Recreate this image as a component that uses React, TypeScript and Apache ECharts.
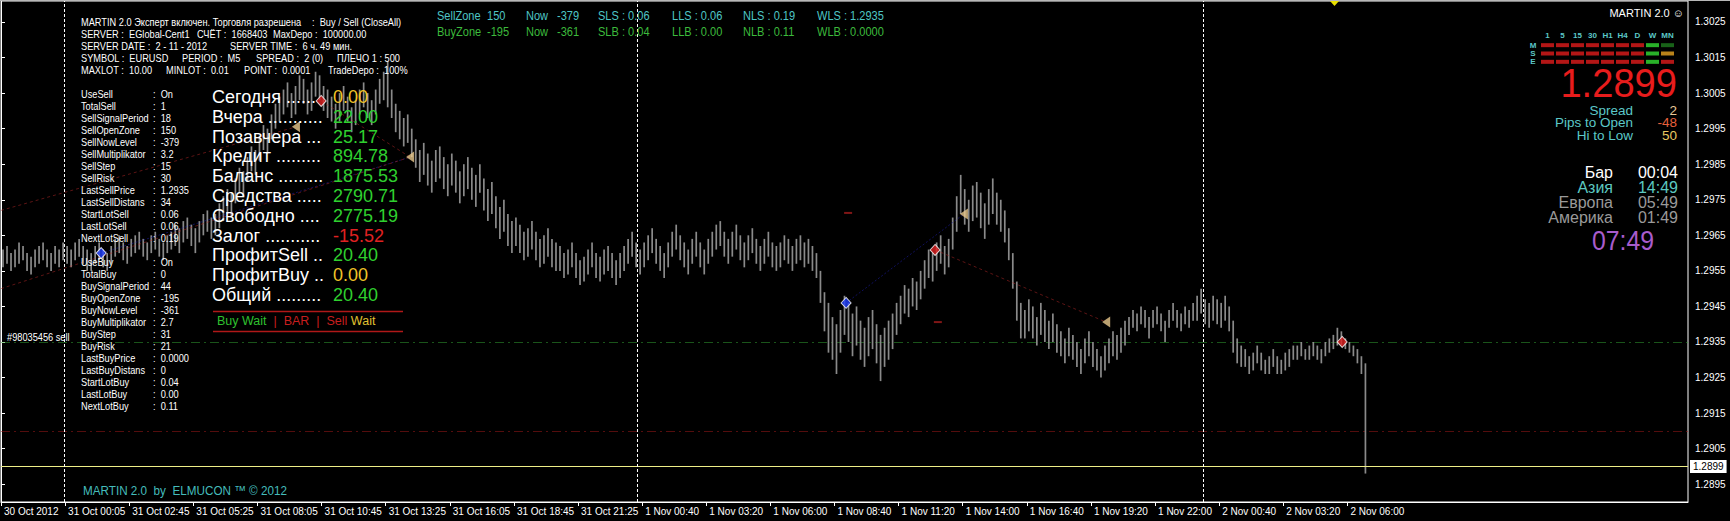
import React, { useEffect, useRef } from "react";
import * as echarts from "echarts";

// ---------------- DATA ----------------
// bar prices in points: price = 1 + v / 10000
const barHigh = [
  2961, 2962, 2960, 2961, 2963, 2962, 2960, 2959, 2961, 2962, 2963, 2961, 2960, 2962, 2961, 2963,
  2962, 2961, 2963, 2964, 2962, 2961, 2960, 2962, 2963, 2961, 2960, 2962, 2964, 2965, 2963, 2962, 2964, 2965, 2966, 2964, 2963, 2965, 2966, 2964, 2963, 2965,
  2966, 2968, 2967, 2969, 2970, 2968, 2967, 2969, 2971, 2972, 2970, 2971,
  2974, 2976, 2978, 2977, 2981, 2984, 2983, 2987, 2990, 2989, 2993, 2996, 2995, 2999, 3002, 3004,
  3006, 3008, 3005, 3007, 3010, 3009, 3006, 3008, 3011, 3010, 3007, 3006,
  3004, 3002, 3005, 3007, 3004, 3001, 3003, 3006, 3008, 3005, 3003, 3006, 3009, 3011, 3014,
  3006, 3002, 3000, 2998, 2999, 2995, 2992,
  2989, 2991, 2988, 2986, 2989, 2990, 2987, 2985, 2988, 2986, 2983, 2985, 2987, 2984, 2982,
  2985, 2981, 2978, 2980, 2976, 2973, 2975, 2971, 2969,
  2970, 2968, 2966, 2967, 2969, 2966, 2964, 2965, 2967, 2964, 2963,
  2962, 2960, 2961, 2963, 2960, 2958, 2959, 2961, 2963, 2960, 2959, 2961, 2962, 2960, 2958, 2960,
  2962, 2964, 2966, 2963, 2961, 2963, 2965, 2967, 2964, 2962, 2960, 2963, 2966, 2968, 2965, 2963, 2961, 2964, 2966, 2963, 2961, 2964,
  2966, 2968, 2969, 2966, 2964, 2966, 2968, 2965, 2963, 2965, 2967, 2964, 2962, 2964, 2966, 2963, 2962,
  2963, 2965, 2964, 2962, 2964, 2965, 2963, 2964, 2962, 2960,
  2955, 2949, 2946, 2942,
  2940, 2944, 2948, 2946, 2943, 2945, 2941, 2939, 2942, 2944, 2940, 2937, 2939, 2941, 2943,
  2946, 2948, 2951, 2950, 2953, 2952, 2955,
  2958, 2961, 2960, 2963, 2965, 2962, 2964,
  2970, 2976, 2982, 2978, 2975, 2979,
  2980, 2977, 2974, 2978, 2981, 2977, 2975, 2972,
  2967, 2960, 2952, 2946,
  2944, 2947, 2945, 2942, 2946, 2944, 2941, 2943, 2940,
  2938, 2936, 2939, 2937, 2935, 2933, 2936, 2938, 2935, 2933, 2931, 2934, 2936, 2938, 2937, 2939, 2941,
  2942, 2944, 2943, 2945, 2944, 2942, 2944, 2945, 2943, 2941, 2944, 2946, 2944, 2943, 2945, 2944, 2946,
  2948, 2950, 2947, 2946, 2948, 2947, 2946, 2948, 2945,
  2941, 2936, 2934,
  2933, 2931, 2932, 2934, 2932, 2930, 2931, 2933, 2931, 2930, 2932, 2933, 2934,
  2934, 2935, 2933, 2934, 2935, 2934, 2933, 2935, 2936, 2937, 2939,
  2938, 2936, 2935, 2934, 2933,
  2931, 2929,
];
const barLow = [
  2956, 2957, 2955, 2956, 2957, 2958, 2955, 2954, 2956, 2957, 2958, 2956, 2955, 2957, 2956, 2958,
  2957, 2956, 2958, 2959, 2957, 2955, 2955, 2957, 2958, 2956, 2955, 2957, 2959, 2960, 2958, 2957, 2959, 2960, 2961, 2959, 2958, 2960, 2961, 2959, 2958, 2960,
  2961, 2962, 2960, 2963, 2964, 2962, 2960, 2963, 2965, 2966, 2964, 2965,
  2967, 2969, 2971, 2970, 2974, 2977, 2976, 2980, 2983, 2982, 2986, 2989, 2988, 2992, 2995, 2997,
  2999, 3001, 2998, 2999, 3003, 3002, 2999, 3000, 3004, 3003, 3000, 2998,
  2997, 2995, 2997, 3000, 2997, 2994, 2996, 2999, 3001, 2998, 2996, 2999, 3002, 3003, 3001,
  2998, 2994, 2992, 2990, 2991, 2987, 2984,
  2980, 2982, 2979, 2977, 2980, 2981, 2978, 2976, 2979, 2977, 2974, 2976, 2978, 2975, 2973,
  2977, 2972, 2969, 2971, 2967, 2964, 2966, 2962, 2960,
  2962, 2960, 2958, 2959, 2961, 2958, 2956, 2957, 2959, 2956, 2955,
  2955, 2953, 2954, 2956, 2953, 2951, 2952, 2954, 2956, 2953, 2952, 2954, 2955, 2953, 2951, 2953,
  2955, 2957, 2959, 2956, 2954, 2956, 2958, 2960, 2957, 2955, 2953, 2956, 2959, 2961, 2958, 2956, 2954, 2957, 2959, 2956, 2954, 2957,
  2959, 2961, 2962, 2959, 2957, 2959, 2961, 2958, 2956, 2958, 2960, 2957, 2955, 2957, 2959, 2956, 2955,
  2956, 2958, 2957, 2955, 2957, 2958, 2956, 2957, 2955, 2953,
  2946, 2938, 2932, 2930,
  2926, 2932, 2937, 2935, 2931, 2934, 2930, 2928, 2931, 2933, 2929, 2924, 2928, 2930, 2933,
  2937, 2940, 2943, 2942, 2945, 2944, 2947,
  2950, 2953, 2952, 2955, 2957, 2954, 2956,
  2961, 2966, 2971, 2968, 2966, 2969,
  2970, 2967, 2964, 2968, 2971, 2968, 2966, 2963,
  2958, 2950, 2941, 2936,
  2936, 2938, 2936, 2934, 2937, 2935, 2933, 2935, 2932,
  2931, 2929, 2931, 2930, 2928, 2926, 2929, 2931, 2928, 2927, 2925, 2927, 2929, 2931, 2930, 2932, 2934,
  2937, 2939, 2938, 2940, 2939, 2936, 2939, 2940, 2938, 2935, 2939, 2941, 2939, 2938, 2940, 2939, 2941,
  2941, 2943, 2940, 2939, 2941, 2940, 2939, 2941, 2938,
  2932, 2929, 2928,
  2928, 2926, 2927, 2929, 2927, 2926, 2926, 2928, 2926, 2926, 2927, 2928, 2930,
  2930, 2931, 2930, 2930, 2931, 2930, 2929, 2931, 2932, 2933, 2934,
  2934, 2933, 2932, 2931, 2929,
  2926, 2898,
];

const xLabels = [
  "30 Oct 2012", "31 Oct 00:05", "31 Oct 02:45", "31 Oct 05:25", "31 Oct 08:05", "31 Oct 10:45",
  "31 Oct 13:25", "31 Oct 16:05", "31 Oct 18:45", "31 Oct 21:25", "1 Nov 00:40", "1 Nov 03:20",
  "1 Nov 06:00", "1 Nov 08:40", "1 Nov 11:20", "1 Nov 14:00", "1 Nov 16:40", "1 Nov 19:20",
  "1 Nov 22:00", "2 Nov 00:40", "2 Nov 03:20", "2 Nov 06:00",
];
const barsPerLabel = 16;
const totalSlots = 421;
const yTicks = [1.2895, 1.2905, 1.2915, 1.2925, 1.2935, 1.2945, 1.2955, 1.2965, 1.2975, 1.2985, 1.2995, 1.3005, 1.3015, 1.3025];
const yMin = 1.289;
const yMax = 1.30309;

const bidPrice = 1.2899;
const greenLevel = 1.2935;
const redLevel = 1.291;
const separators = [15.7, 158.7, 300];

const buyOpens = [[25, 1.296], [210.9, 1.2946]];
const sellOpens = [[79.9, 1.30028], [233.1, 1.29609], [334.7, 1.2935]];
const closeMarks = [[73.6, 1.29955], [102.1, 1.2987], [240.3, 1.2971], [275.8, 1.29406]];
const stopMarks = [[211.4, 1.29713], [233.8, 1.29406]];
const buyTradeLines = [
  [[25, 1.296], [102.1, 1.2987]],
  [[210.9, 1.2946], [240.3, 1.2971]],
];
const sellTradeLines = [
  [[0, 1.2972], [73.6, 1.29955]],
  [[0, 1.295], [102.1, 1.2987]],
  [[79.9, 1.30028], [102.1, 1.2987]],
  [[233.1, 1.29609], [275.8, 1.29406]],
];

const infoLines = [
  ["MARTIN 2.0 Эксперт включен. Торговля разрешена", ":  Buy / Sell (CloseAll)"],
  ["SERVER :  EGlobal-Cent1", "СЧЁТ :  1668403", "MaxDepo :  100000.00"],
  ["SERVER DATE :  2 - 11 - 2012", "SERVER TIME :  6 ч. 49 мин."],
  ["SYMBOL :  EURUSD", "PERIOD :  M5", "SPREAD :  2 (0)", "ПЛЕЧО 1 : 500"],
  ["MAXLOT :  10.00", "MINLOT :  0.01", "POINT :  0.0001", "TradeDepo :  100%"],
];
const sellParams = [
  ["UseSell", "On"], ["TotalSell", "1"], ["SellSignalPeriod", "18"], ["SellOpenZone", "150"],
  ["SellNowLevel", "-379"], ["SellMultiplikator", "3.2"], ["SellStep", "15"], ["SellRisk", "30"],
  ["LastSellPrice", "1.2935"], ["LastSellDistans", "34"], ["StartLotSell", "0.06"],
  ["LastLotSell", "0.06"], ["NextLotSell", "0.19"],
];
const buyParams = [
  ["UseBuy", "On"], ["TotalBuy", "0"], ["BuySignalPeriod", "44"], ["BuyOpenZone", "-195"],
  ["BuyNowLevel", "-361"], ["BuyMultiplikator", "2.7"], ["BuyStep", "31"], ["BuyRisk", "21"],
  ["LastBuyPrice", "0.0000"], ["LastBuyDistans", "0"], ["StartLotBuy", "0.04"],
  ["LastLotBuy", "0.00"], ["NextLotBuy", "0.11"],
];
const accountRows = [
  ["Сегодня ......", "0.00", "y"], ["Вчера ...........", "22.00", "g"], ["Позавчера ...", "25.17", "g"],
  ["Кредит .........", "894.78", "g"], ["Баланс .........", "1875.53", "g"], ["Средства .....", "2790.71", "g"],
  ["Свободно ....", "2775.19", "g"], ["Залог ...........", "-15.52", "r"], ["ПрофитSell ..", "20.40", "g"],
  ["ПрофитBuy ..", "0.00", "y"], ["Общий .........", "20.40", "g"],
];
const sellZone = ["SellZone", "150", "Now", "-379", "SLS : 0.06", "LLS : 0.06", "NLS : 0.19", "WLS : 1.2935"];
const buyZone = ["BuyZone", "-195", "Now", "-361", "SLB : 0.04", "LLB : 0.00", "NLB : 0.11", "WLB : 0.0000"];

const tfNames = ["1", "5", "15", "30", "H1", "H4", "D", "W", "MN"];
const tfRows = ["M", "S", "E"];
const tfStatus = [
  ["r", "r", "r", "r", "r", "r", "r", "g", "dg"],
  ["r", "r", "r", "r", "r", "r", "r", "g", "o"],
  ["r", "r", "r", "r", "r", "r", "r", "g", "r"],
];
const statRows = [["Spread", "2"], ["Pips to Open", "-48"], ["Hi to Low", "50"]];
const sessionRows = [["Бар", "00:04"], ["Азия", "14:49"], ["Европа", "05:49"], ["Америка", "01:49"]];
const localTime = "07:49";

// ---------------- STYLE ----------------
const SANS = '"Liberation Sans", Arial, sans-serif';
const valColors: Record<string, string> = { g: "#2fd02f", y: "#f0c428", r: "#e02222" };
const tfColors: Record<string, string> = { r: "#e01c1c", g: "#33dd33", dg: "#1e7a1e", o: "#e8a420" };

function buildOption() {
  const bars = barHigh.map((h, i) => [i + 0.5, 1 + barLow[i] / 10000, 1 + h / 10000]);
  const g: any[] = [];
  const txt = (x: number, y: number, text: string, fill: string, size: number, align = "left", sx = 1, extra: any = {}) =>
    g.push({
      type: "text", x, y, z: 100, silent: true, scaleX: sx,
      style: { text, fill, fontSize: size, fontFamily: SANS, align, verticalAlign: "middle", textAlign: align, textVerticalAlign: "middle", ...extra },
    });

  // top window line
  g.push({ type: "rect", shape: { x: 0, y: 0, width: 1730, height: 1 }, style: { fill: "#b8b8b8" }, z: 100 });
  // chart shift marker
  g.push({ type: "polygon", shape: { points: [[1330, 1], [1339, 1], [1334.5, 6]] }, style: { fill: "#e8e000" }, z: 100 });

  // info header
  const infoX = [[81, 312], [81, 197, 273], [81, 230], [81, 182, 256, 337], [81, 166, 244, 328]];
  infoLines.forEach((line, r) => line.forEach((s, c) => txt(infoX[r][c], 22 + r * 12, s, "#ffffff", 11, "left", 0.84)));

  // parameter lists
  sellParams.forEach(([k, v], i) => {
    txt(81, 94 + i * 12, k, "#ffffff", 11, "left", 0.84);
    txt(153, 94 + i * 12, ":  " + v, "#ffffff", 11, "left", 0.84);
  });
  buyParams.forEach(([k, v], i) => {
    txt(81, 262 + i * 12, k, "#ffffff", 11, "left", 0.84);
    txt(153, 262 + i * 12, ":  " + v, "#ffffff", 11, "left", 0.84);
  });
  txt(7, 337, "#98035456 sell", "#ffffff", 10.5, "left", 0.88);

  // account block
  accountRows.forEach(([k, v, c], i) => {
    const y = 97 + i * 19.8;
    txt(212, y, k, "#ffffff", 18);
    txt(333, y, v, valColors[c], 18);
  });
  g.push({ type: "line", shape: { x1: 213, y1: 311.5, x2: 403, y2: 311.5 }, style: { stroke: "#b01818", lineWidth: 1.5 }, z: 100 });
  g.push({ type: "line", shape: { x1: 213, y1: 331.5, x2: 403, y2: 331.5 }, style: { stroke: "#b01818", lineWidth: 1.5 }, z: 100 });
  txt(217, 321, "{g|Buy Wait}{r|  |  BAR  |  Sell }{y|Wait}", "#ffffff", 12.5, "left", 1, {
    rich: {
      g: { fill: "#2fc02f", fontSize: 12.5, fontFamily: SANS },
      r: { fill: "#c81e1e", fontSize: 12.5, fontFamily: SANS },
      y: { fill: "#e0c030", fontSize: 12.5, fontFamily: SANS },
    },
  });

  // zone lines
  const zoneX = [437, 487, 526, 557, 598, 672, 743, 817];
  sellZone.forEach((s, i) => txt(zoneX[i], 16, s, "#4ec6c6", 13, "left", 0.85));
  buyZone.forEach((s, i) => txt(zoneX[i], 32, s, "#3cba3c", 13, "left", 0.85));

  // right panel
  txt(1684, 13, "MARTIN 2.0 ☺", "#ffffff", 11, "right");
  txt(1533, 45, "M", "#5cc8c8", 8, "center", 1, { fontWeight: "bold" });
  txt(1533, 53, "S", "#5cc8c8", 8, "center", 1, { fontWeight: "bold" });
  txt(1533, 61, "E", "#5cc8c8", 8, "center", 1, { fontWeight: "bold" });
  txt(1677, 83, "1.2899", "#e81c1c", 41, "right", 0.93);
  const statVal = ["#e8c898", "#e8603c", "#e8c860"];
  statRows.forEach(([k, v], i) => {
    txt(1633, 110 + i * 12.8, k, "#5cc8c8", 13.5, "right");
    txt(1677, 110 + i * 12.8, v, statVal[i], 13.5, "right");
  });
  const sessCol = ["#ffffff", "#5cc8c0", "#9a9a9a", "#9a9a9a"];
  sessionRows.forEach(([k, v], i) => {
    txt(1613, 172 + i * 15.3, k, sessCol[i], 16, "right");
    txt(1678, 172 + i * 15.3, v, sessCol[i], 16, "right");
  });
  txt(1623, 241, localTime, "#a85ccc", 27, "center", 0.92);

  // bottom copyright
  txt(83, 491, "MARTIN 2.0  by  ELMUCON ™ © 2012", "#44bcbc", 13, "left", 0.9);

  const tfData: any[] = [];
  tfStatus.forEach((row, r) => row.forEach((s, c) => tfData.push({ value: [c, r], itemStyle: { color: tfColors[s] } })));

  const levelLine = (v: number, color: string, type: any) => ({ coords: [[0, v], [totalSlots, v]], lineStyle: { color, width: 1, type } });

  return {
    animation: false,
    backgroundColor: "#000000",
    grid: [
      { left: 1, top: 1, right: 42, bottom: 19, show: true, borderColor: "#ffffff", borderWidth: 1, backgroundColor: "transparent" },
      { left: 1540, top: 41, width: 135, height: 25 },
    ],
    xAxis: [
      {
        type: "value", gridIndex: 0, min: 0, max: totalSlots, position: "bottom",
        axisLine: { show: true, lineStyle: { color: "#ffffff", width: 1 } },
        axisTick: { show: true, length: 4, lineStyle: { color: "#ffffff" }, customValues: xLabels.map((_, k) => k * barsPerLabel) },
        axisLabel: {
          show: true, color: "#ffffff", fontSize: 10, fontFamily: SANS, margin: 4, align: "left", padding: [0, 0, 0, 3],
          customValues: xLabels.map((_, k) => k * barsPerLabel),
          formatter: (v: number) => xLabels[Math.round(v / barsPerLabel)] ?? "",
        },
        splitLine: { show: false },
      },
      {
        type: "category", gridIndex: 1, data: tfNames, position: "top",
        axisLine: { show: false }, axisTick: { show: false },
        axisLabel: { interval: 0, color: "#5cc8c8", fontSize: 8, fontWeight: "bold", fontFamily: SANS, margin: 2 },
      },
    ],
    yAxis: [
      {
        type: "value", gridIndex: 0, min: yMin, max: yMax, position: "right",
        axisLine: { show: true, lineStyle: { color: "#ffffff", width: 1 } },
        axisTick: { show: true, length: 4, lineStyle: { color: "#ffffff" }, customValues: yTicks },
        axisLabel: { show: true, color: "#ffffff", fontSize: 10, fontFamily: SANS, margin: 7, customValues: yTicks, formatter: (v: number) => v.toFixed(4) },
        splitLine: { show: false },
      },
      {
        type: "category", gridIndex: 1, data: tfRows, inverse: true,
        axisLine: { show: false }, axisTick: { show: false }, axisLabel: { show: false },
      },
    ],
    series: [
      {
        type: "lines", coordinateSystem: "cartesian2d", xAxisIndex: 0, yAxisIndex: 0, z: 1, silent: true,
        data: [
          levelLine(greenLevel, "#34a834", [9, 4, 2, 4]),
          levelLine(redLevel, "#a81a1a", [9, 4, 2, 4]),
        ],
      },
      {
        type: "custom", xAxisIndex: 0, yAxisIndex: 0, data: bars, encode: { x: 0, y: [1, 2] }, z: 2,
        renderItem: (params: any, api: any) => {
          const x = api.value(0);
          const lo = api.coord([x, api.value(1)]);
          const hi = api.coord([x, api.value(2)]);
          return { type: "line", shape: { x1: lo[0], y1: lo[1], x2: hi[0], y2: hi[1] }, style: { stroke: "#8a8a8a", lineWidth: 1.7 } };
        },
        markLine: {
          silent: true, symbol: "none", animation: false,
          data: [
            {
              yAxis: bidPrice, lineStyle: { color: "#eeee88", width: 1, type: "solid" },
              label: { show: true, position: "end", distance: 2, formatter: bidPrice.toFixed(4), color: "#000000", backgroundColor: "#ffffff", padding: [2, 3, 1, 3], fontSize: 10, fontFamily: SANS },
            },
            ...separators.map((v) => ({ xAxis: v, lineStyle: { color: "#ffffff", width: 1, type: [3, 2] }, label: { show: false } })),
          ],
        },
      },
      {
        type: "lines", coordinateSystem: "cartesian2d", xAxisIndex: 0, yAxisIndex: 0, z: 5, silent: true,
        data: [
          ...buyTradeLines.map((c) => ({ coords: c, lineStyle: { color: "#2020b8", width: 1, type: [2, 2] } })),
          ...sellTradeLines.map((c) => ({ coords: c, lineStyle: { color: "#b82828", width: 1, type: [3, 3] } })),
        ],
      },
      {
        type: "scatter", xAxisIndex: 0, yAxisIndex: 0, z: 6, silent: true, data: buyOpens,
        symbol: "diamond", symbolSize: [10, 11], itemStyle: { color: "#2040ff", borderColor: "#ffffff", borderWidth: 1 },
      },
      {
        type: "scatter", xAxisIndex: 0, yAxisIndex: 0, z: 6, silent: true, data: sellOpens,
        symbol: "diamond", symbolSize: [10, 11], itemStyle: { color: "#e02020", borderColor: "#ffffff", borderWidth: 1 },
      },
      {
        type: "scatter", xAxisIndex: 0, yAxisIndex: 0, z: 6, silent: true, data: closeMarks,
        symbol: "triangle", symbolRotate: 90, symbolSize: [11, 8], itemStyle: { color: "#e8c88c" },
      },
      {
        type: "scatter", xAxisIndex: 0, yAxisIndex: 0, z: 6, silent: true, data: stopMarks,
        symbol: "rect", symbolSize: [8, 2], itemStyle: { color: "#a01c1c" },
      },
      {
        type: "scatter", xAxisIndex: 1, yAxisIndex: 1, z: 6, silent: true, data: tfData,
        symbol: "rect", symbolSize: [13, 4],
      },
    ],
    graphic: { elements: g },
  };
}

export default function App() {
  const ref = useRef<HTMLDivElement>(null);
  useEffect(() => {
    document.body.style.margin = "0";
    document.body.style.background = "#000";
    const chart = echarts.init(ref.current!, null, { renderer: "svg" });
    chart.setOption(buildOption() as any);
    return () => chart.dispose();
  }, []);
  return <div ref={ref} style={{ width: 1730, height: 521, background: "#000" }} />;
}
